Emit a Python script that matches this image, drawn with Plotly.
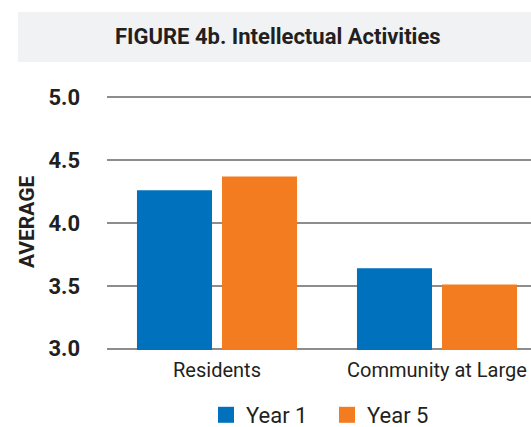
import plotly.graph_objects as go

categories = ["Residents", "Community at Large"]
year1 = [4.26, 3.64]
year5 = [4.37, 3.51]
series_names = ["Year 1", "Year 5"]
y_ticks = [3.0, 3.5, 4.0, 4.5, 5.0]
y_tick_labels = ["3.0", "3.5", "4.0", "4.5", "5.0"]

BLUE = "#0071bc"
ORANGE = "#f37c21"
FONT = "Roboto, Liberation Sans Narrow, sans-serif"
TXT = "#231f20"

W, H = 531, 427
L, R, T, B = 107, 0, 96, 77
PW, PH = W - L - R, H - T - B

def px_x(p):
    return (p - L) / PW

def px_y(p):
    return (H - B - p) / PH

fig = go.Figure()
for name, vals, col in [(series_names[0], year1, BLUE), (series_names[1], year5, ORANGE)]:
    fig.add_trace(go.Bar(x=categories, y=vals, name=name, marker_color=col,
                         marker_line_width=0, showlegend=False, legendgroup=name))
for name, col in [(series_names[0], BLUE), (series_names[1], ORANGE)]:
    fig.add_trace(go.Scatter(x=[None], y=[None], mode="markers", name=name, legendgroup=name,
                             marker=dict(symbol="square", size=18, color=col), showlegend=True))

fig.update_layout(
    width=W, height=H,
    margin=dict(l=L, r=R, t=T, b=B, pad=0, autoexpand=False),
    paper_bgcolor="white", plot_bgcolor="white",
    barmode="group", bargap=0.227, bargroupgap=0.1176,
    font=dict(family=FONT, color=TXT),
    showlegend=True,
    legend=dict(orientation="h", x=px_x(206), xanchor="left", y=px_y(415), yanchor="middle",
                font=dict(size=22, family=FONT, color=TXT), itemwidth=30, entrywidth=76,
                tracegroupgap=0, bgcolor="rgba(0,0,0,0)"),
    xaxis=dict(range=[-0.5, -0.5 + PW / 220.0], showgrid=False, showline=False, ticks="",
               automargin=False,
               tickfont=dict(size=20, family=FONT, color=TXT), ticklabelstandoff=6),
    yaxis=dict(range=[2.99, 5.01], tickvals=y_ticks, ticktext=y_tick_labels, showgrid=True,
               automargin=False,
               gridcolor="#8d8d8f", gridwidth=2, zeroline=False, showline=False, ticks="",
               tickfont=dict(size=22, family=FONT, color=TXT, weight="bold"), ticklabelstandoff=26),
    shapes=[dict(type="rect", xref="paper", yref="paper", x0=px_x(18), x1=px_x(531),
                 y0=px_y(62), y1=px_y(12), fillcolor="#f1f2f4", line_width=0, layer="below")],
    annotations=[
        dict(text="<b>FIGURE 4b. Intellectual Activities</b>", xref="paper", yref="paper",
             x=px_x(278), y=px_y(37), showarrow=False, xanchor="center", yanchor="middle",
             font=dict(size=22, family=FONT, color=TXT)),
        dict(text="<b>AVERAGE</b>", xref="paper", yref="paper", x=px_x(27), y=px_y(222),
             showarrow=False, textangle=-90, xanchor="center", yanchor="middle",
             font=dict(size=21, family=FONT, color=TXT)),
    ],
)

fig.write_html(
    "out.html",
    config={"displayModeBar": False},
    post_script="document.body.style.margin='0';document.body.style.overflow='hidden';",
)
